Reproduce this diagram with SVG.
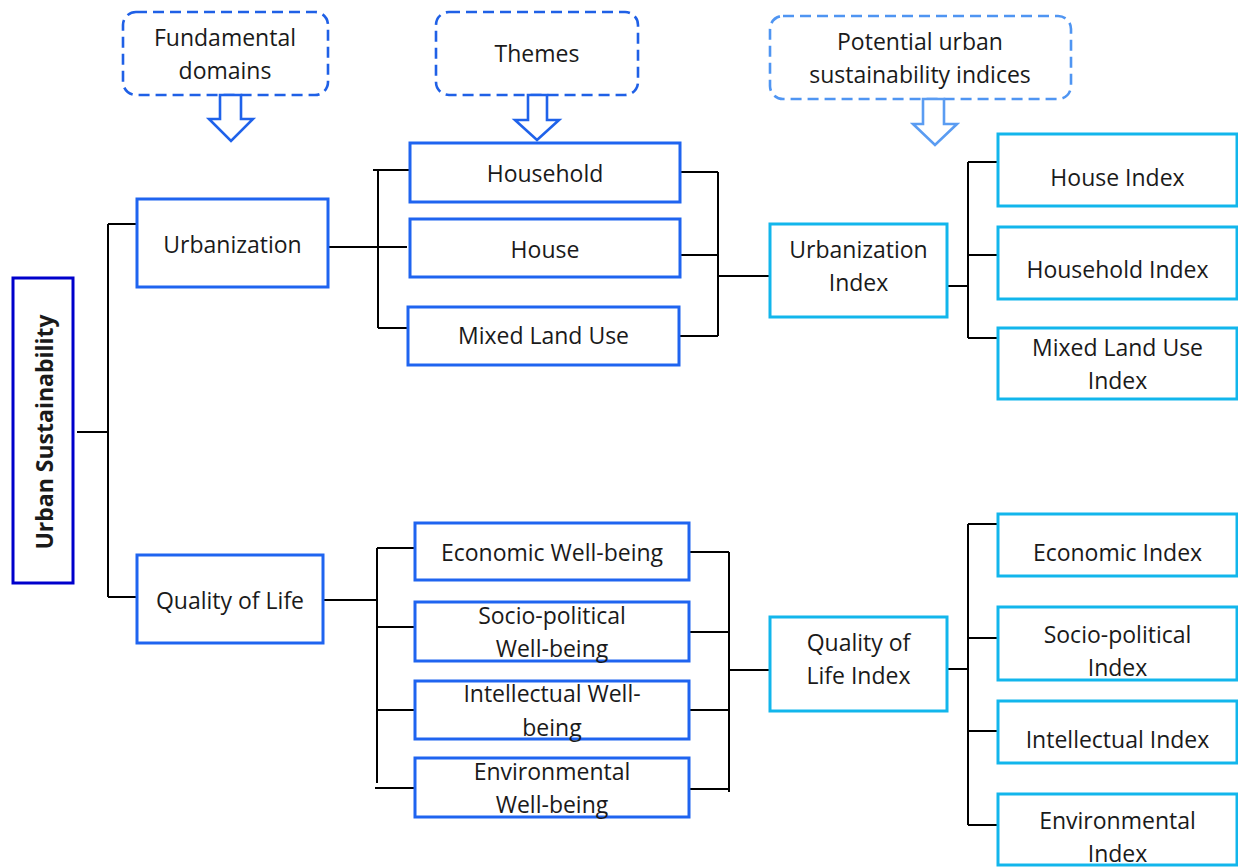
<svg xmlns="http://www.w3.org/2000/svg" width="1238" height="867" viewBox="0 0 1238 867">
<style>
text{font-family:"Open Sans","Noto Sans","Liberation Sans",sans-serif;font-size:23px;fill:#1a1a1a;text-anchor:middle}
.b{fill:#fff;stroke:#1f64f0;stroke-width:3}
.c{fill:#fff;stroke:#12b6ec;stroke-width:3}
.d{fill:#fff;stroke:#1f60e6;stroke-width:2.6;stroke-dasharray:11 6}
.d2{fill:#fff;stroke:#4f95f2;stroke-width:2.6;stroke-dasharray:11 6}
.ar{fill:#fff;stroke:#1f62ea;stroke-width:2.6;stroke-linejoin:miter}
.ar2{fill:#fff;stroke:#5a9cf2;stroke-width:2.6}
#connectors path{fill:none;stroke:#000;stroke-width:2}
</style>
<rect width="1238" height="867" fill="#fff"/>
<g id="connectors">
<path d="M77 432H108M108 224V597M108 224H137M108 597H137"/>
<path d="M328 247H407M378 170V328M373 170H410M378 328H408"/>
<path d="M678 172H718M678 255H718M679 336H718M718 172V336M718 276H770"/>
<path d="M947 286H968M968 162V338M968 162H998M968 255H998M968 338H998"/>
<path d="M323 600H378M377 548V783M377 548H415M377 627H415M377 710H415M375 788H415"/>
<path d="M689 552H729M689 632H729M689 710H729M689 789H729M729 552V792M729 670H770"/>
<path d="M947 669H968M968 524V825M968 524H998M968 638H998M968 731H998M968 825H998"/>
</g>
<g id="hdr-fundamental"><rect class="d" x="123" y="12" width="205" height="83" rx="13"/><text x="225" y="46">Fundamental</text><text x="225" y="79">domains</text></g>
<g id="arrow1"><path class="ar" d="M220 95V119H209L231 141L253 119H241V95Z"/></g>
<g id="hdr-themes"><rect class="d" x="436" y="12" width="202" height="83" rx="13"/><text x="537" y="62">Themes</text></g>
<g id="arrow2"><path class="ar" d="M528 95V120H515L537 140L559 120H547V95Z"/></g>
<g id="hdr-potential"><rect class="d2" x="770" y="16" width="301" height="83" rx="13"/><text x="920" y="50">Potential urban</text><text x="920" y="83">sustainability indices</text></g>
<g id="arrow3"><path class="ar2" d="M923 99V124H913L935 145L957 124H944V99Z"/></g>
<g id="urban-sustainability"><rect x="13" y="278" width="60" height="305" fill="#fff" stroke="#0000cc" stroke-width="3"/><text transform="translate(53 432) rotate(-90)" font-weight="bold" font-size="22">Urban Sustainability</text></g>
<g id="urbanization"><rect class="b" x="137" y="199" width="191" height="88"/><text x="232.5" y="253">Urbanization</text></g>
<g id="quality-of-life"><rect class="b" x="137" y="555" width="186" height="88"/><text x="230" y="609">Quality of Life</text></g>
<g id="household"><rect class="b" x="410" y="143" width="270" height="59"/><text x="545" y="182">Household</text></g>
<g id="house"><rect class="b" x="410" y="219" width="270" height="58"/><text x="545" y="258">House</text></g>
<g id="mixed-land-use"><rect class="b" x="408" y="307" width="271" height="58"/><text x="543.5" y="344">Mixed Land Use</text></g>
<g id="economic-wb"><rect class="b" x="415" y="523" width="274" height="57"/><text x="552" y="561">Economic Well-being</text></g>
<g id="socio-wb"><rect class="b" x="415" y="602" width="274" height="59"/><text x="552" y="624">Socio-political</text><text x="552" y="657">Well-being</text></g>
<g id="intellectual-wb"><rect class="b" x="415" y="681" width="274" height="58"/><text x="552" y="702">Intellectual Well-</text><text x="552" y="736">being</text></g>
<g id="environmental-wb"><rect class="b" x="415" y="758" width="274" height="59"/><text x="552" y="780">Environmental</text><text x="552" y="813">Well-being</text></g>
<g id="urbanization-index"><rect class="c" x="770" y="224" width="177" height="93"/><text x="858.5" y="258">Urbanization</text><text x="858.5" y="291">Index</text></g>
<g id="qol-index"><rect class="c" x="770" y="617" width="177" height="94"/><text x="858.5" y="651">Quality of</text><text x="858.5" y="684">Life Index</text></g>
<g id="house-index"><rect class="c" x="998" y="134" width="239" height="72"/><text x="1117.5" y="186">House Index</text></g>
<g id="household-index"><rect class="c" x="998" y="227" width="239" height="72"/><text x="1117.5" y="278">Household Index</text></g>
<g id="mlu-index"><rect class="c" x="998" y="328" width="239" height="71"/><text x="1117.5" y="356">Mixed Land Use</text><text x="1117.5" y="389">Index</text></g>
<g id="economic-index"><rect class="c" x="998" y="514" width="239" height="62"/><text x="1117.5" y="561">Economic Index</text></g>
<g id="socio-index"><rect class="c" x="998" y="607" width="239" height="73"/><text x="1117.5" y="643">Socio-political</text><text x="1117.5" y="676">Index</text></g>
<g id="intellectual-index"><rect class="c" x="998" y="701" width="239" height="62"/><text x="1117.5" y="748">Intellectual Index</text></g>
<g id="environmental-index"><rect class="c" x="998" y="794" width="239" height="71"/><text x="1117.5" y="829">Environmental</text><text x="1117.5" y="862">Index</text></g>
</svg>
